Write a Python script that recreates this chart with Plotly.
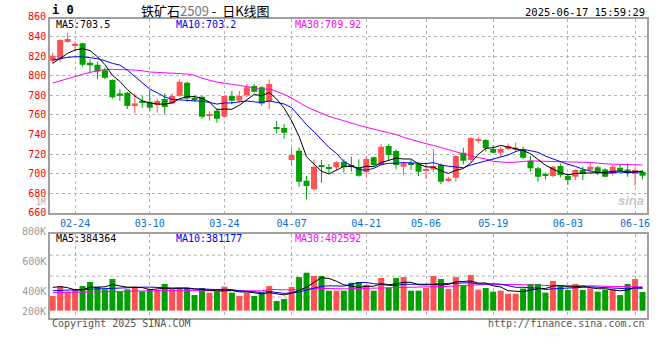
import plotly.graph_objects as go

# ---------------- data ----------------
days = ["02-19", "02-20", "02-21", "02-24", "02-25", "02-26", "02-27", "02-28",
        "03-03", "03-04", "03-05", "03-06", "03-07", "03-10", "03-11", "03-12", "03-13", "03-14",
        "03-17", "03-18", "03-19", "03-20", "03-21", "03-24", "03-25", "03-26", "03-27", "03-28", "03-31",
        "04-01", "04-02", "04-03", "04-07", "04-08", "04-09", "04-10", "04-11", "04-14", "04-15", "04-16",
        "04-17", "04-18", "04-21", "04-22", "04-23", "04-24", "04-25", "04-28", "04-29", "04-30",
        "05-06", "05-07", "05-08", "05-09", "05-12", "05-13", "05-14", "05-15", "05-16",
        "05-19", "05-20", "05-21", "05-22", "05-23", "05-26", "05-27", "05-28", "05-29", "05-30",
        "06-03", "06-04", "06-05", "06-06", "06-09", "06-10", "06-11", "06-12", "06-13", "06-16", "06-17"]
dates = ["2025-" + d for d in days]

opens = [815.4, 817.8, 834.5, 830.8, 833.2, 813.4, 811.4, 805.6, 795.7, 782.0,
         782.7, 769.1, 774.5, 773.5, 770.1, 776.3, 771.8, 779.7, 793.0, 777.6,
         778.6, 759.6, 764.3, 758.2, 779.3, 774.5, 780.0, 789.5, 788.2, 773.5,
         747.6, 746.6, 713.9, 723.4, 692.7, 683.9, 708.8, 706.4, 706.4, 712.2,
         708.8, 706.4, 701.3, 716.6, 708.8, 728.2, 723.1, 707.1, 710.5, 709.8,
         703.0, 704.3, 708.8, 692.4, 695.8, 721.4, 713.9, 733.6, 734.3, 725.1,
         721.4, 725.1, 725.1, 724.8, 712.9, 705.4, 699.6, 697.5, 707.8, 697.5,
         696.8, 703.7, 703.7, 706.4, 704.3, 699.6, 706.1, 704.3, 699.6, 702.0]
highs = [823.6, 837.3, 844.1, 835.6, 833.8, 816.8, 814.4, 808.3, 796.4, 786.5,
         783.7, 782.0, 779.3, 785.5, 776.9, 782.0, 782.0, 796.4, 794.0, 780.0,
         779.3, 763.3, 766.7, 780.0, 784.4, 784.4, 791.6, 791.6, 789.5, 796.3,
         753.7, 750.7, 726.8, 726.8, 697.5, 714.5, 713.9, 709.8, 712.8, 714.6,
         717.3, 714.6, 718.0, 717.3, 730.2, 730.2, 724.8, 712.2, 713.9, 711.2,
         711.2, 724.8, 710.5, 696.8, 719.0, 726.5, 737.1, 737.7, 735.0, 729.2,
         727.5, 730.9, 731.6, 727.5, 718.0, 707.1, 701.0, 707.8, 710.5, 699.6,
         704.3, 707.1, 712.2, 707.8, 705.4, 708.8, 708.8, 710.5, 707.1, 703.7]
lows = [812.7, 814.4, 833.8, 825.3, 809.3, 802.5, 797.0, 796.4, 776.6, 774.5,
        766.0, 761.6, 767.4, 764.3, 762.3, 761.3, 771.1, 778.6, 773.5, 773.5,
        756.1, 754.1, 752.0, 757.5, 770.8, 772.5, 777.9, 782.7, 769.4, 765.7,
        741.1, 735.7, 707.7, 686.6, 673.6, 682.5, 690.7, 700.2, 703.6, 700.9,
        702.0, 696.8, 696.8, 707.1, 707.7, 713.9, 704.3, 698.5, 703.7, 697.5,
        694.5, 701.6, 689.3, 691.7, 691.7, 709.4, 712.2, 730.9, 722.4, 720.7,
        717.3, 724.1, 722.4, 714.6, 702.0, 691.7, 694.1, 696.2, 696.2, 688.3,
        693.4, 693.4, 702.0, 698.6, 696.2, 697.9, 700.3, 696.8, 687.3, 694.1]
closes = [820.6, 836.6, 837.6, 832.8, 811.4, 810.7, 804.5, 798.1, 778.0, 779.7,
          769.1, 771.8, 773.2, 767.4, 774.2, 768.1, 779.3, 794.0, 776.9, 775.9,
          758.2, 760.6, 756.1, 779.3, 774.5, 779.3, 788.2, 783.7, 771.8, 791.6,
          745.9, 741.8, 719.0, 691.7, 687.3, 707.0, 707.0, 705.0, 711.5, 706.4,
          707.1, 697.9, 714.9, 708.8, 727.5, 719.0, 708.8, 710.5, 708.8, 702.0,
          704.3, 707.7, 691.7, 695.1, 718.0, 713.2, 736.4, 735.4, 725.8, 721.4,
          725.1, 728.2, 726.8, 716.3, 705.4, 696.8, 697.5, 707.1, 698.6, 693.4,
          703.7, 699.6, 707.1, 700.3, 696.8, 707.1, 703.0, 700.3, 703.7, 697.9]
# volume, thousand lots
volumes = [367, 433, 396, 407, 433, 460, 429, 411, 480, 396,
           411, 429, 398, 411, 407, 447, 411, 420, 420, 373,
           420, 389, 396, 429, 389, 367, 389, 367, 389, 433,
           333, 347, 427, 493, 522, 500, 500, 402, 402, 402,
           455, 460, 440, 402, 487, 422, 487, 493, 402, 402,
           420, 500, 480, 413, 493, 440, 507, 409, 420, 396,
           402, 382, 382, 416, 447, 447, 389, 467, 433, 407,
           447, 407, 418, 396, 407, 411, 373, 447, 480, 393]

# moving-average values before enough history exists
ma5_lead = [812.7, 817.8, 823.0, 826.4]
ma10_lead = [816.1, 817.8, 818.9, 819.5, 819.5, 818.5, 817.5, 815.4, 812.7]
ma30_lead = [792.6, 795.0, 797.0, 799.4, 801.5, 803.5, 805.2, 806.6, 806.6, 806.6,
             806.2, 805.9, 805.2, 803.9, 803.5, 803.2, 802.5, 802.2, 801.8, 800.5,
             797.5, 795.5, 793.5, 792.5, 791.5, 790.3, 789.0, 787.5, 786.0]
vma5_lead = [424, 429, 422, 407]
vma10_lead = [402, 404, 407, 409, 411, 413, 416, 418, 418]
vma30_lead = [389, 390, 392, 394, 396, 397, 398, 399, 400, 400,
              401, 401, 402, 402, 402, 403, 403, 403, 403, 403,
              403, 403, 402, 402, 402, 401, 401, 401, 401]

tick_days = ["02-24", "03-10", "03-24", "04-07", "04-21", "05-06", "05-19", "06-03", "06-16"]
price_ticks = [660, 680, 700, 720, 740, 760, 780, 800, 820, 840]

title_main = "铁矿石"
title_code = "2509"
title_tail = " -  日K线图"
stamp = "2025-06-17 15:59:29"
ma_price_text = ["MA5:703.5", "MA10:703.2", "MA30:709.92"]
ma_vol_text = ["MA5:384364", "MA10:381177", "MA30:402592"]

# ---------------- helpers ----------------
W, H = 660, 360
ML, MR, MT, MB = 50, 10, 19, 42
PW, PH = W - ML - MR, H - MT - MB


def fx(px):
    return (px - ML) / PW


def fy(py):
    return (H - MB - py) / PH


def rolling(vals, n, lead):
    out = []
    for i in range(len(vals)):
        if i < n - 1:
            out.append(lead[i])
        else:
            out.append(sum(vals[i - n + 1:i + 1]) / n)
    return out


RED = "#ff5252"
GREEN = "#00a000"
MONO = "DejaVu Sans Mono"

up = [c >= o for o, c in zip(opens, closes)]
colors = [RED if u else GREEN for u in up]

fig = go.Figure()

# wicks
for flag, col in ((True, RED), (False, GREEN)):
    wx, wy = [], []
    for d, hi, lo, u in zip(dates, highs, lows, up):
        if u == flag:
            wx += [d, d, None]
            wy += [lo, hi, None]
    fig.add_trace(go.Scatter(x=wx, y=wy, mode="lines", line=dict(color=col, width=1),
                             hoverinfo="skip", showlegend=False, xaxis="x", yaxis="y"))

# bodies
fig.add_trace(go.Bar(x=dates, y=[max(abs(c - o), 0.6) for o, c in zip(opens, closes)],
                     base=[min(o, c) for o, c in zip(opens, closes)],
                     marker=dict(color=colors, line=dict(width=0)), width=0.8,
                     showlegend=False, xaxis="x", yaxis="y"))

# price moving averages
for n, lead, col in ((30, ma30_lead, "#ff00ff"), (10, ma10_lead, "#0000ff"), (5, ma5_lead, "#000000")):
    fig.add_trace(go.Scatter(x=dates, y=rolling(closes, n, lead), mode="lines",
                             line=dict(color=col, width=1), showlegend=False,
                             hoverinfo="skip", xaxis="x", yaxis="y"))

# volume
VBASE = 269
fig.add_trace(go.Bar(x=dates, y=[v - VBASE for v in volumes], base=[VBASE] * len(volumes),
                     marker=dict(color=colors, line=dict(width=0)), width=0.8,
                     showlegend=False, xaxis="x2", yaxis="y2"))
for n, lead, col in ((30, vma30_lead, "#ff00ff"), (10, vma10_lead, "#0000ff"), (5, vma5_lead, "#000000")):
    fig.add_trace(go.Scatter(x=dates, y=rolling(volumes, n, lead), mode="lines",
                             line=dict(color=col, width=1), showlegend=False,
                             hoverinfo="skip", xaxis="x2", yaxis="y2"))

grid = "#b4b4b4"
frame = "#a0a0a0"
tickvals = ["2025-" + d for d in tick_days]
xrange = [-0.36, len(dates) - 1 + 0.6]

common_x = dict(type="category", categoryorder="array", categoryarray=dates, range=xrange,
                tickvals=tickvals, showgrid=True, gridcolor=grid, griddash="dot", gridwidth=1,
                showline=True, linecolor=frame, linewidth=1.5, mirror=True, ticks="",
                zeroline=False, fixedrange=True)

fig.update_layout(
    width=W, height=H, margin=dict(l=ML, r=MR, t=MT, b=MB),
    paper_bgcolor="white", plot_bgcolor="white", bargap=0.2, barmode="overlay",
    showlegend=False,
    xaxis=dict(**common_x, anchor="y", ticktext=tick_days,
               tickfont=dict(family=MONO, size=10, color="#0a6ed1")),
    xaxis2=dict(**common_x, anchor="y2", matches="x", showticklabels=False),
    yaxis=dict(domain=[fy(213.3), 1], range=[659.4, 858.1], tickvals=price_ticks,
               tickfont=dict(family=MONO, size=10, color="#ff0000"),
               showgrid=True, gridcolor=grid, griddash="dot", gridwidth=1,
               showline=True, linecolor=frame, linewidth=1.5, mirror=True, ticks="",
               zeroline=False, fixedrange=True),
    yaxis2=dict(domain=[0, fy(234.3)], range=[220, 778], tickvals=[600, 400],
                ticktext=["600K", "400K"],
                tickfont=dict(family=MONO, size=10, color="#999999"),
                showgrid=False, showline=True, linecolor=frame, linewidth=1.5, mirror=True,
                ticks="", zeroline=False, fixedrange=True),
)

# volume panel gridlines (4 equal bands)
for f in (0.25, 0.5, 0.75):
    fig.add_shape(type="line", xref="paper", x0=0, x1=1, yref="y2 domain", y0=f, y1=f,
                  line=dict(color=grid, width=1, dash="dot"), layer="below")

ann = []


def txt(text, x, y, xa="left", size=10, color="#000", family=MONO, ya="middle"):
    ann.append(dict(text=text, x=fx(x), y=fy(y), xref="paper", yref="paper",
                    xanchor=xa, yanchor=ya, showarrow=False,
                    font=dict(family=family, size=size, color=color)))


txt("<b>i 0</b>", 50, 10.5, size=12)
txt(title_main + "<span style='color:#777'>" + title_code + "</span>" + title_tail,
    206, 10.5, xa="center", size=13, family="Noto Sans CJK SC")
txt(stamp, 650, 12, xa="right", size=10.5)
txt("860", 47.5, 16.5, xa="right", color="#ff0000")
txt("1M", 47.5, 202, xa="right", size=8, color="#aaaaaa")
txt("800K", 47.5, 231, xa="right", color="#999999")
txt("200K", 47.5, 311, xa="right", color="#999999")
for t, x, c in zip(ma_price_text, (54.5, 174.5, 294.5), ("#000000", "#0000ff", "#ff00ff")):
    txt(t, x, 24.5, color=c)
for t, x, c in zip(ma_vol_text, (54.5, 174.5, 294.5), ("#000000", "#0000ff", "#ff00ff")):
    txt(t, x, 238, color=c)
txt("Copyright 2025 SINA.COM", 49.5, 323.5, color="#555555")
txt("http://finance.sina.com.cn", 650, 323.5, xa="right", color="#555555")
txt("<b><i>sina</i></b>", 634, 200, xa="center", size=13, color="#c8c8c8", family="Liberation Sans")
fig.update_layout(annotations=ann)

fig.write_html("out.html", config={"displayModeBar": False},
               post_script="document.body.style.margin='0';document.body.style.padding='0';")
